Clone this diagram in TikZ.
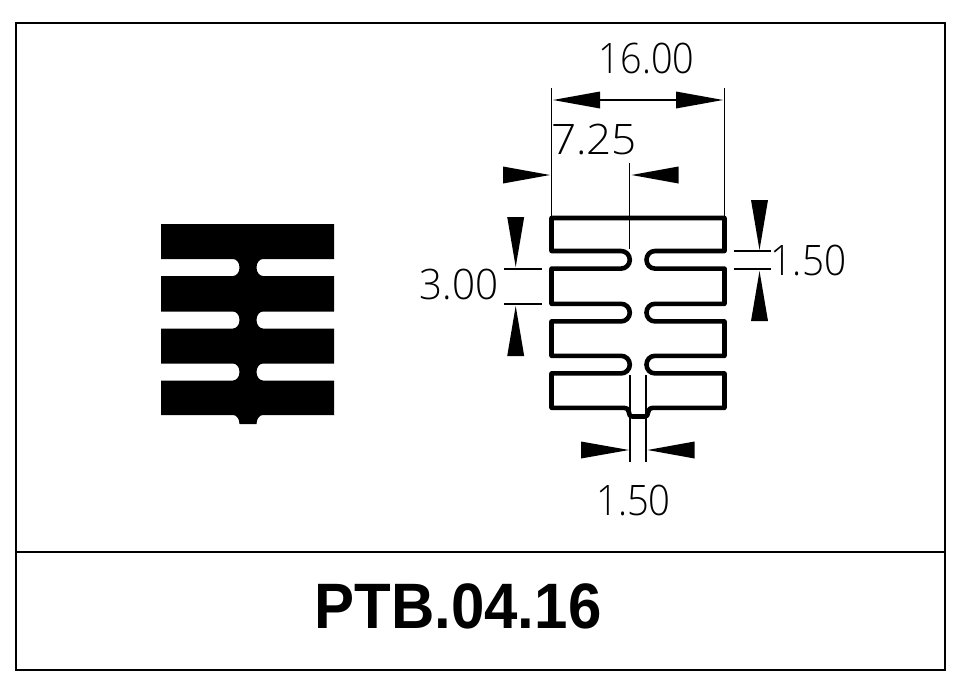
\documentclass[tikz,border=0pt]{standalone}
\usepackage{fontspec}
\setmainfont{Liberation Sans}
\newfontfamily\dimfont{Open Sans Light}
\tikzset{
  frameline/.style={draw=black,line width=1.8pt},
  profile/.style={draw=black,line width=4.6pt,line join=round,line cap=round},
  witness/.style={draw=black,line width=1.5pt},
  dimline/.style={draw=black,line width=1.6pt},
  arrowfill/.style={fill=black,draw=none},
  dimtext/.style={font=\dimfont\fontsize{42}{42}\selectfont,inner sep=0pt,anchor=center,text=black},
  titletext/.style={font=\bfseries\fontsize{60}{60}\selectfont,inner sep=0pt,anchor=center,text=black,yscale=1.07}
}
\newcommand{\harrow}[3]{\path[arrowfill] (#1,#3) -- (#2,#3-8.5) -- (#2,#3+8.5) -- cycle;}
\newcommand{\varrow}[3]{\path[arrowfill] (#3,#1) -- (#3-8.5,#2) -- (#3+8.5,#2) -- cycle;}
\begin{document}
\begin{tikzpicture}[x=1pt,y=-1pt]
\useasboundingbox (0,0) rectangle (963,696);
\fill[white] (0,0) rectangle (963,696);
% frame
\draw[frameline] (16,23) rectangle (945,670);
\draw[frameline] (16,552) -- (945,552);
% solid section
\fill[black] (161,224) -- (334,224) -- (334,259)
  \foreach \t in {259,311.5,363.5}{
    -- (334,\t) -- (263,\t) .. controls (259.4,\t) and (256.5,\t+3.8) .. (256.5,\t+8.5)
    .. controls (256.5,\t+13.2) and (259.4,\t+17) .. (263,\t+17) -- (334,\t+17) -- (334,\t+52)
  }
  -- (334,415) -- (263,415) .. controls (259.4,415) and (256.5,419) .. (256.5,424)
  -- (239.5,424) .. controls (239.5,419) and (236.6,415) .. (233,415) -- (161,415)
  \foreach \t in {363.5,311.5,259}{
    -- (161,\t+17) -- (233,\t+17) .. controls (236.6,\t+17) and (239.5,\t+13.2) .. (239.5,\t+8.5)
    .. controls (239.5,\t+3.8) and (236.6,\t) .. (233,\t) -- (161,\t)
  }
  -- cycle;
% outline section
\draw[profile] (551.5,218) -- (724.5,218) -- (724.5,251)
  \foreach \t in {251,303.8,355.8}{
    -- (724.5,\t) -- (655,\t) .. controls (650.1,\t) and (646.5,\t+3.9) .. (646.5,\t+8.8)
    .. controls (646.5,\t+13.7) and (650.1,\t+17.6) .. (655,\t+17.6) -- (724.5,\t+17.6) -- (724.5,\t+52)
  }
  -- (724.5,407.8) -- (654,407.8) .. controls (650,407.8) and (648,409.5) .. (648,412.5)
  .. controls (648,415) and (647,416.5) .. (645,416.5)
  -- (632,416.5) .. controls (630,416.5) and (629,415) .. (629,412.5)
  .. controls (629,409.5) and (627,407.8) .. (623,407.8) -- (551.5,407.8)
  \foreach \t in {355.8,303.8,251}{
    -- (551.5,\t+17.6) -- (621,\t+17.6) .. controls (625.9,\t+17.6) and (629.8,\t+13.7) .. (629.8,\t+8.8)
    .. controls (629.8,\t+3.9) and (625.9,\t) .. (621,\t) -- (551.5,\t)
  }
  -- cycle;
% witness lines
\draw[witness] (551.5,88) -- (551.5,218);
\draw[witness] (724.5,88) -- (724.5,218);
\draw[witness] (629.7,163) -- (629.7,249);
\draw[witness] (734,251) -- (771,251);
\draw[witness] (734,269) -- (771,269);
\draw[witness] (504,269) -- (541.5,269);
\draw[witness] (504,304) -- (541.5,304);
\draw[witness] (630,375) -- (630,462);
\draw[witness] (646,375) -- (646,462);
% dimension lines and arrowheads
\draw[dimline] (600,100) -- (676,100);
\harrow{553}{600}{100}
\harrow{723}{676}{100}
\harrow{550}{503}{175}
\harrow{631.5}{678.5}{175}
\varrow{250}{200}{759.5}
\varrow{271}{321}{759.5}
\varrow{267}{217}{515.7}
\varrow{306}{356}{515.7}
\harrow{629}{581}{450}
\harrow{647.5}{694.5}{450}
% dimension texts
\node[dimtext,xscale=0.9] (d16) at (646.5,58) {16.00};
\node[dimtext,xscale=1.05] (d725) at (594,139.5) {7.25};
\node[dimtext,xscale=0.92] (d150r) at (808.5,260) {1.50};
\node[dimtext,xscale=0.96] (d300) at (459,284) {3.00};
\node[dimtext,xscale=0.91] (d150b) at (633.5,500) {1.50};
% title
\node[titletext] (title) at (458,606) {PTB.04.16};
\end{tikzpicture}
\end{document}
